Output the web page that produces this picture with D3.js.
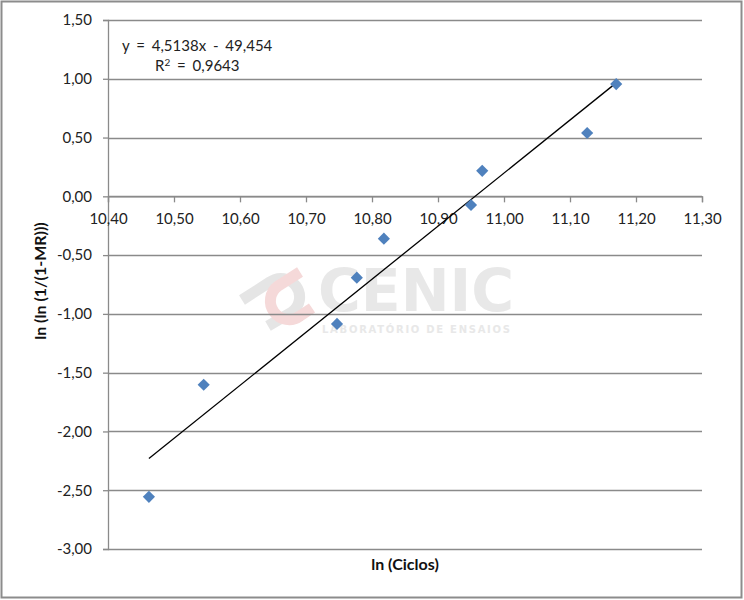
<!DOCTYPE html>
<html>
<head>
<meta charset="utf-8">
<script src="https://cdn.jsdelivr.net/npm/d3@7"></script>
<style>
  html, body { margin: 0; padding: 0; background: #fff; }
  svg { display: block; }
</style>
</head>
<body>
<svg id="chart" width="744" height="600"></svg>
<script>
// ---- data ----
const lnCiclos = [10.462, 10.545, 10.747, 10.777, 10.818, 10.950, 10.967, 11.126, 11.170];
const lnLnMR   = [-2.556, -1.603, -1.085, -0.692, -0.360, -0.074, 0.217, 0.539, 0.955];
const xTicks = [10.40, 10.50, 10.60, 10.70, 10.80, 10.90, 11.00, 11.10, 11.20, 11.30];
const yTicks = [1.50, 1.00, 0.50, 0.00, -0.50, -1.00, -1.50, -2.00, -2.50, -3.00];
const trendSlope = 4.5138;
const trendIntercept = -49.454;
const equationText = "y = 4,5138x - 49,454";
const r2Label = "0,9643";
const xTitle = "ln (Ciclos)";
const yTitle = "ln (ln (1/(1-MR)))";

const font = "Lato, 'Open Sans', sans-serif";
const svg = d3.select("#chart");
const locale = d3.formatLocale({decimal: ",", thousands: ".", grouping: [3], currency: ["", ""], minus: "-"});
const fmt = locale.format(".2f");

// outer frame
svg.append("rect").attr("x", 1.5).attr("y", 1.5).attr("width", 740).attr("height", 596)
  .attr("fill", "#fff").attr("stroke", "#8c8c8c").attr("stroke-width", 2);

const x = d3.scaleLinear().domain([10.4, 11.3]).range([108, 702]);
const y = d3.scaleLinear().domain([-3, 1.5]).range([549, 20]);

// watermark
const wm = svg.append("g").attr("opacity", 0.9);
wm.append("path").attr("d", "M242,300 L270,282 A18,18 0 0 1 292,312 L268,326")
  .attr("fill", "none").attr("stroke", "#e3e3e3").attr("stroke-width", 11);
wm.append("path").attr("d", "M300,272 L278,286 A18,18 0 0 0 300,316 L312,308")
  .attr("fill", "none").attr("stroke", "#f5d5d5").attr("stroke-width", 11);
wm.append("text").attr("x", 318).attr("y", 311).attr("font-family", "'DejaVu Sans', sans-serif")
  .attr("font-weight", "bold").attr("font-size", 58).attr("fill", "#e6e6e6")
  .attr("textLength", 196).attr("lengthAdjust", "spacingAndGlyphs").text("CENIC");
wm.append("text").attr("x", 322).attr("y", 333).attr("font-family", "'DejaVu Sans', sans-serif")
  .attr("font-weight", "bold").attr("font-size", 10).attr("fill", "#e6e6e6")
  .attr("textLength", 188).attr("lengthAdjust", "spacing").text("LABORATÓRIO DE ENSAIOS");

// gridlines
svg.append("g").selectAll("line").data(yTicks).join("line")
  .attr("x1", x.range()[0]).attr("x2", x.range()[1])
  .attr("y1", d => Math.round(y(d)) + 0.5).attr("y2", d => Math.round(y(d)) + 0.5)
  .attr("stroke", "#8a8a8a").attr("stroke-width", 1.3);

// y axis
const yAxis = svg.append("g").attr("transform", `translate(${x(10.4)},0)`)
  .call(d3.axisLeft(y).tickValues(yTicks).tickFormat(fmt).tickSize(5).tickPadding(11));
yAxis.select(".domain").attr("stroke", "#8a8a8a").attr("stroke-width", 1.3);
yAxis.selectAll(".tick line").attr("stroke", "#8a8a8a").attr("stroke-width", 1.3);
yAxis.selectAll(".tick text").attr("font-family", font).attr("font-size", 15).attr("fill", "#222");

// x axis at y=0
const xAxis = svg.append("g").attr("transform", `translate(0,${y(0)})`)
  .call(d3.axisBottom(x).tickValues(xTicks).tickFormat(fmt).tickSize(6).tickPadding(11));
xAxis.select(".domain").attr("stroke", "#8a8a8a").attr("stroke-width", 1.3);
xAxis.selectAll(".tick line").attr("stroke", "#8a8a8a").attr("stroke-width", 1.3);
xAxis.selectAll(".tick text").attr("font-family", font).attr("font-size", 15).attr("fill", "#222");

// trendline
const xMin = d3.min(lnCiclos), xMax = d3.max(lnCiclos);
svg.append("line")
  .attr("x1", x(xMin)).attr("y1", y(trendSlope * xMin + trendIntercept))
  .attr("x2", x(xMax)).attr("y2", y(trendSlope * xMax + trendIntercept))
  .attr("stroke", "#000").attr("stroke-width", 1.3);

// points
const diamond = d3.symbol().type(d3.symbolSquare).size(74);
svg.append("g").selectAll("path").data(lnCiclos.map((v, i) => [v, lnLnMR[i]])).join("path")
  .attr("d", diamond)
  .attr("transform", d => `translate(${x(d[0])},${y(d[1])}) rotate(45)`)
  .attr("fill", "#4f81bd");

// equation
svg.append("text").attr("x", 122).attr("y", 51).attr("font-family", font).attr("font-size", 15)
  .attr("word-spacing", 3).attr("fill", "#222").text(equationText);
const r2 = svg.append("text").attr("x", 155).attr("y", 71).attr("font-family", font).attr("font-size", 15)
  .attr("word-spacing", 3).attr("fill", "#222");
r2.append("tspan").text("R");
r2.append("tspan").attr("dy", -5).attr("font-size", 10).text("2");
r2.append("tspan").attr("dy", 5).text(" = " + r2Label);

// axis titles
svg.append("text").attr("x", 405).attr("y", 570).attr("text-anchor", "middle")
  .attr("font-family", font).attr("font-weight", "bold").attr("font-size", 16).attr("fill", "#111")
  .text(xTitle);
svg.append("text").attr("transform", "translate(46,281) rotate(-90)").attr("text-anchor", "middle")
  .attr("font-family", font).attr("font-weight", "bold").attr("font-size", 16).attr("fill", "#111")
  .text(yTitle);
</script>
</body>
</html>
